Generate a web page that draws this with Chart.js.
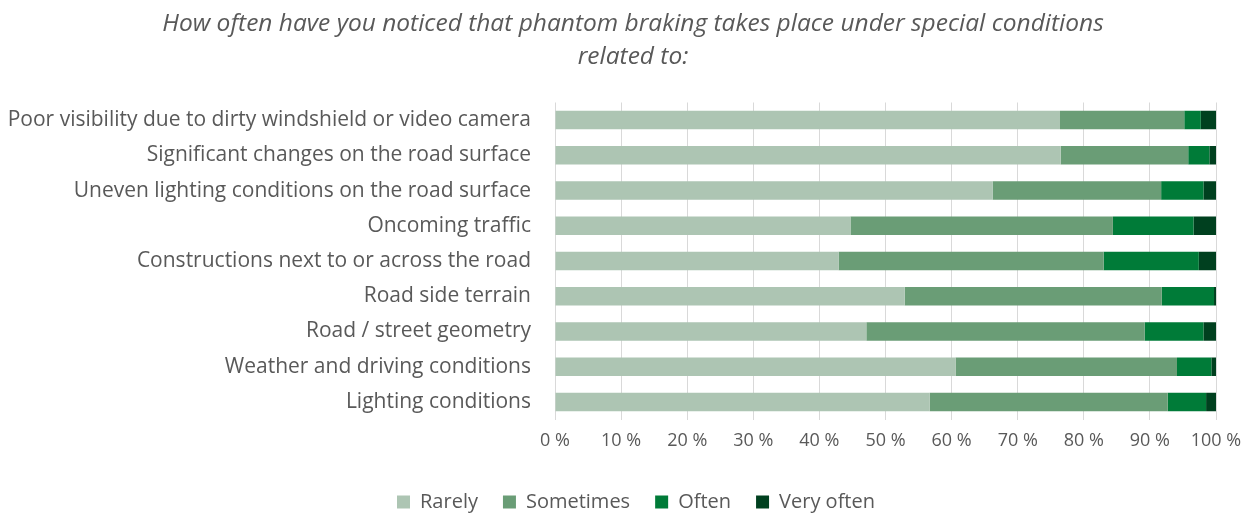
<!DOCTYPE html>
<html>
<head>
<meta charset="utf-8">
<script src="https://cdn.jsdelivr.net/npm/chart.js@4"></script>
<style>
  html, body { margin: 0; padding: 0; background: #fff; }
  #wrap { width: 1255px; height: 514px; position: relative; }
</style>
</head>
<body>
<div id="wrap"><canvas id="chart"></canvas></div>
<script>
const categories = [
    'Poor visibility due to dirty windshield or video camera',
    'Significant changes on the road surface',
    'Uneven lighting conditions on the road surface',
    'Oncoming traffic',
    'Constructions next to or across the road',
    'Road side terrain',
    'Road / street geometry',
    'Weather and driving conditions',
    'Lighting conditions'
];

const rarely    = [76.4, 76.5, 66.2, 44.7, 42.9, 52.9, 47.1, 60.6, 56.7];
const sometimes = [18.8, 19.3, 25.5, 39.7, 40.1, 38.9, 42.1, 33.5, 36.0];
const often     = [2.5, 3.2, 6.4, 12.2, 14.4, 7.9, 8.9, 5.2, 5.8];
const veryOften = [2.3, 1.0, 1.9, 3.4, 2.6, 0.3, 1.9, 0.7, 1.5];

const seriesNames = ['Rarely', 'Sometimes', 'Often', 'Very often'];
const seriesColors = ['#adc5b3', '#6a9d76', '#007b38', '#00401f'];

const titleLines = [
    'How often have you noticed that phantom braking takes place under special conditions',
    'related to:'
];

const textColor = '#595959';
const fontFamily = '"Open Sans", sans-serif';

// title and legend are centred on the whole picture, not on the plot
const centreShift = {
    id: 'centreShift',
    afterLayout(chart) {
        chart.titleBlock.left += 25;
        chart.titleBlock.right += 25;
        chart.legend.left += 28;
        chart.legend.right += 28;
    }
};

const ctx = document.getElementById('chart').getContext('2d');

let chart = new Chart(ctx, {
    type: 'bar',
    data: {
        labels: categories,
        datasets: [rarely, sometimes, often, veryOften].map((d, i) => ({
            label: seriesNames[i],
            data: d,
            backgroundColor: seriesColors[i],
            borderWidth: 0,
            barPercentage: 1,
            categoryPercentage: 0.525
        }))
    },
    options: {
        indexAxis: 'y',
        responsive: true,
        maintainAspectRatio: false,
        animation: false,
        layout: { padding: { left: 0, right: 39, top: 0, bottom: -8 } },
        scales: {
            x: {
                stacked: true,
                min: 0,
                max: 100,
                ticks: {
                    stepSize: 10,
                    padding: 11,
                    color: textColor,
                    font: { family: fontFamily, size: 18 },
                    callback: v => v + ' %'
                },
                grid: { color: '#d9d9d9', lineWidth: 1, drawTicks: false },
                border: { display: false },
                afterFit: scale => { scale.height = 47.5; }
            },
            y: {
                stacked: true,
                ticks: {
                    padding: 16,
                    color: textColor,
                    font: { family: fontFamily, size: 21 }
                },
                grid: { display: false },
                border: { display: false },
                afterFit: scale => { scale.width = 555; }
            }
        },
        plugins: {
            title: {
                display: true,
                text: titleLines,
                color: textColor,
                font: { family: fontFamily, size: 24.5, style: 'italic', weight: 'normal', lineHeight: 1.347 },
                padding: { top: 8, bottom: 28.5 }
            },
            legend: {
                position: 'bottom',
                labels: {
                    boxWidth: 13,
                    boxHeight: 13,
                    padding: 25,
                    color: textColor,
                    font: { family: fontFamily, size: 20 }
                }
            },
            tooltip: { enabled: false }
        }
    },
    plugins: [centreShift]
});
</script>
</body>
</html>
